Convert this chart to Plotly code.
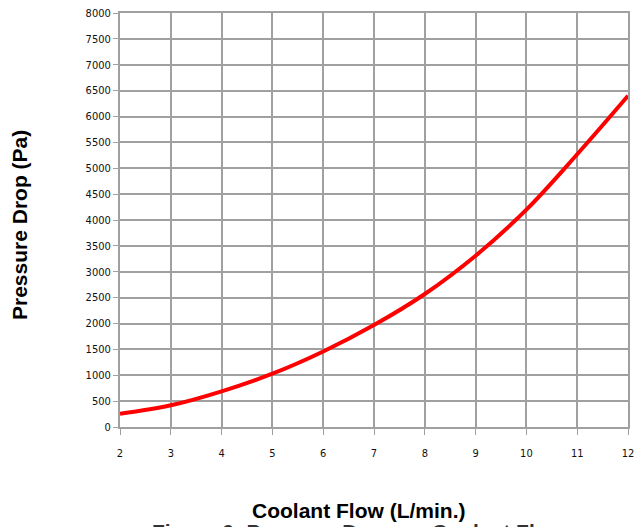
import plotly.graph_objects as go

flow = [2, 3, 4, 5, 6, 7, 8, 9, 10, 11, 12]
pressure = [255, 420, 690, 1030, 1460, 1970, 2570, 3310, 4200, 5270, 6400]

x_ticks = list(range(2, 13))
y_ticks = list(range(0, 8001, 500))

x_title = "Coolant Flow (L/min.)"
y_title = "Pressure Drop (Pa)"
caption = "Figure 6: Pressure Drop vs. Coolant Flow"

tick_font = dict(family="Liberation Sans Narrow, DejaVu Sans Condensed, Arial", size=11, color="#111")
title_font = dict(family="Liberation Sans, Arial", size=21, color="black")

fig = go.Figure()
fig.add_trace(go.Scatter(
    x=flow, y=pressure, mode="lines",
    line=dict(color="#ff0000", width=4, shape="spline", smoothing=1.0),
    showlegend=False, hoverinfo="x+y",
))

fig.update_layout(
    width=636, height=527,
    margin=dict(l=120, r=8, t=13, b=100, autoexpand=False),
    paper_bgcolor="white", plot_bgcolor="white",
    xaxis=dict(
        range=[2, 12], tickvals=x_ticks, ticktext=[str(v) for v in x_ticks],
        showgrid=True, gridcolor="#a0a0a0", gridwidth=1.5,
        showline=True, linecolor="#a0a0a0", linewidth=2, mirror=True,
        ticks="outside", ticklen=6, tickcolor="#a0a0a0", tickwidth=1,
        tickfont=tick_font, ticklabelstandoff=9, zeroline=False, automargin=False,
    ),
    yaxis=dict(
        range=[0, 8000], tickvals=y_ticks, ticktext=[str(v) for v in y_ticks],
        showgrid=True, gridcolor="#a0a0a0", gridwidth=1.5,
        showline=True, linecolor="#a0a0a0", linewidth=2, mirror=True,
        ticks="outside", ticklen=5, tickcolor="#a0a0a0", tickwidth=1,
        tickfont=tick_font, zeroline=False, automargin=False,
    ),
    annotations=[
        dict(text=f"<b>{x_title}</b>", xref="paper", yref="paper",
             x=(358 - 120) / 508, y=-(510 - 427) / 414, xanchor="center", yanchor="middle",
             showarrow=False, font=title_font),
        dict(text=f"<b>{y_title}</b>", xref="paper", yref="paper",
             x=-(120 - 19) / 508, y=(427 - 225) / 414, xanchor="center", yanchor="middle",
             textangle=-90, showarrow=False, font=title_font),
        dict(text=f"<b>{caption}</b>", xref="paper", yref="paper",
             x=(358 - 120) / 508, y=-(518 - 427) / 414, xanchor="center", yanchor="top",
             showarrow=False, font=dict(family="Liberation Sans, Arial", size=21, color="#333")),
    ],
)

fig.write_html(
    "out.html",
    config={"displayModeBar": False},
    post_script="document.body.style.margin='0';document.body.style.overflow='hidden';",
)
